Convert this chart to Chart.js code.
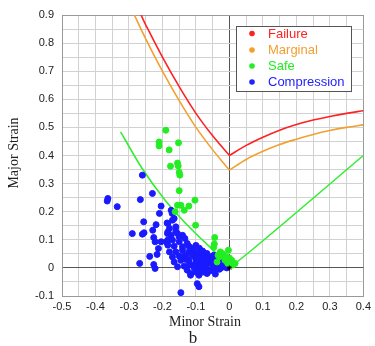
<!DOCTYPE html>
<html><head><meta charset="utf-8">
<script src="https://cdn.jsdelivr.net/npm/chart.js@4/dist/chart.umd.min.js"></script>
<style>html,body{margin:0;padding:0;background:#fff}#wrap{width:375px;height:346px;position:relative}</style>
</head><body><div id="wrap"><canvas id="c" width="375" height="346"></canvas></div>
<script>
// Forming limit curves
const failureLeftX  = [-0.264,-0.25,-0.2,-0.15,-0.1,-0.05,0];
const failureLeftY  = [0.9,0.865,0.75,0.645,0.55,0.47,0.40];
const failureRightX = [0,0.05,0.1,0.15,0.2,0.25,0.3,0.35,0.4];
const failureRightY = [0.40,0.436,0.465,0.49,0.51,0.526,0.539,0.55,0.559];
const marginalLeftX = [-0.284,-0.25,-0.2,-0.15,-0.1,-0.05,0];
const marginalLeftY = [0.9,0.815,0.70,0.595,0.50,0.42,0.348];
const marginalRightX= [0,0.05,0.1,0.15,0.2,0.25,0.3,0.35,0.4];
const marginalRightY= [0.348,0.386,0.415,0.439,0.458,0.475,0.489,0.50,0.509];
const safeLineX     = [-0.325,-0.264,-0.195,-0.136,-0.09,-0.05,-0.02,0,0.4];
const safeLineY     = [0.484,0.36,0.245,0.165,0.11,0.065,0.025,0,0.4];

// Measured points [minor, major]
const safePoints = [
 [-0.19,0.49],[-0.21,0.448],[-0.21,0.434],[-0.152,0.445],[-0.18,0.42],[-0.155,0.373],[-0.153,0.363],
 [-0.176,0.362],[-0.15,0.34],[-0.148,0.33],[-0.15,0.275],[-0.155,0.223],[-0.145,0.223],[-0.103,0.241],
 [-0.121,0.22],[-0.135,0.205],[-0.162,0.2],[-0.101,0.152],[-0.044,0.108],[-0.047,0.073],[-0.034,0.045],
 [-0.023,0.042],[-0.003,0.063],[-0.013,0.027],[0.007,0.027],[-0.027,0.057],[0.017,0.016],[-0.037,0.021],
 [-0.005,0.016],[-0.045,0.085],[-0.02,0.05],[-0.01,0.04],[0.0,0.035],[0.01,0.01],[-0.03,0.04]
];
const compressionPoints = [
 [-0.26,0.33],[-0.363,0.247],[-0.365,0.238],[-0.335,0.218],[-0.266,0.243],[-0.23,0.265],[-0.204,0.22],
 [-0.209,0.194],[-0.256,0.164],[-0.219,0.154],[-0.186,0.16],[-0.29,0.122],[-0.26,0.12],[-0.255,0.125],
 [-0.229,0.134],[-0.226,0.108],[-0.222,0.093],[-0.204,0.093],[-0.189,0.093],[-0.184,0.128],[-0.212,0.069],
 [-0.216,0.048],[-0.238,0.041],[-0.226,0.012],[-0.222,-0.002],[-0.268,0.016],[-0.145,-0.088],
 [-0.174,0.205],[-0.171,0.194],[-0.184,0.158],[-0.179,0.14],[-0.16,0.146],[-0.185,0.122],[-0.174,0.116],
 [-0.155,0.122],[-0.14,0.116],[-0.133,0.105],[-0.184,0.099],[-0.17,0.099],[-0.15,0.093],[-0.126,0.087],
 [-0.184,0.081],[-0.165,0.077],[-0.14,0.075],[-0.121,0.077],[-0.179,0.057],[-0.16,0.057],[-0.14,0.063],
 [-0.121,0.057],[-0.106,0.057],[-0.17,0.039],[-0.15,0.042],[-0.13,0.045],[-0.111,0.045],[-0.096,0.051],
 [-0.081,0.045],[-0.067,0.051],[-0.047,0.045],[-0.165,0.021],[-0.145,0.027],[-0.121,0.027],[-0.101,0.033],
 [-0.086,0.03],[-0.071,0.033],[-0.057,0.03],[-0.037,0.027],[-0.023,0.021],[-0.155,0.004],[-0.135,0.006],
 [-0.111,0.01],[-0.096,0.013],[-0.081,0.016],[-0.067,0.013],[-0.052,0.016],[-0.037,0.01],[-0.013,0.013],
 [-0.126,-0.008],[-0.116,-0.02],[-0.091,-0.008],[-0.076,-0.006],[-0.057,-0.008],[-0.042,-0.002],[-0.027,0.004],
 [-0.116,-0.026],[-0.091,-0.026],[-0.067,-0.02],[-0.042,-0.022],[-0.096,-0.056],[-0.091,-0.067],
 [-0.06,0.04],[-0.05,0.025],[-0.045,0.005],[-0.035,0.035],[-0.03,0.015],[-0.025,0.0],[-0.02,0.03],
 [-0.015,0.005],[-0.01,0.02],[-0.008,0.0],[-0.005,0.01],[-0.07,0.0],[-0.075,0.02],[-0.085,0.005],
 [-0.09,0.035],[-0.1,0.02],[-0.105,0.0],[-0.06,-0.012],[-0.05,0.0],[-0.065,0.03],[-0.04,0.02],
 [-0.03,-0.005],[-0.02,0.012],[-0.11,0.07],[-0.1,0.08],[-0.09,0.07],[-0.08,0.06],[-0.13,0.03],
 [-0.12,0.01],[-0.14,0.04],[-0.1,-0.015],[-0.08,-0.015],[-0.165,0.176],[-0.17,0.17],[-0.16,0.13],[-0.15,0.11]
];
const legendLabels = ['Failure','Marginal','Safe','Compression'];
const legendColors = ['#ff2222','#f2a030','#22ee22','#2222ff'];
const xTitle = 'Minor Strain';
const yTitle = 'Major Strain';
const caption = 'b';

const xy = (xs, ys) => xs.map((x,i)=>({x:x, y:ys[i]}));
const pts = a => a.map(p=>({x:p[0], y:p[1]}));

const lineDs = (label, data, color, order) => ({label, data, showLine:true, borderColor:color,
  borderWidth:1.6, pointRadius:0, tension:0.35, fill:false, order});

const overlay = {
  id:'overlay',
  afterDraw(chart){
    const ctx = chart.ctx;
    ctx.save();
    // legend box
    ctx.fillStyle = '#fff';
    ctx.fillRect(236,26,116,66);
    ctx.strokeStyle = '#555';
    ctx.lineWidth = 1;
    ctx.strokeRect(236.5,26.5,115,65);
    ctx.font = '13px "Liberation Sans", Arial, sans-serif';
    ctx.textBaseline = 'middle';
    ctx.textAlign = 'left';
    const ys = [33.5,50,66,82];
    legendLabels.forEach((t,i)=>{
      ctx.fillStyle = legendColors[i];
      ctx.beginPath(); ctx.arc(252,ys[i],2.8,0,Math.PI*2); ctx.fill();
      ctx.fillText(t,268,ys[i]+0.5);
    });
    // titles
    ctx.fillStyle = '#222';
    ctx.textAlign = 'center';
    ctx.font = '14px "Liberation Serif", "Times New Roman", serif';
    ctx.fillText(xTitle,205,322);
    ctx.font = '17px "Liberation Serif", "Times New Roman", serif';
    ctx.fillText(caption,193,339);
    ctx.translate(14,153);
    ctx.rotate(-Math.PI/2);
    ctx.font = '14px "Liberation Serif", "Times New Roman", serif';
    ctx.fillText(yTitle,0,0);
    ctx.restore();
  }
};

const fmt = v => {
  const r = Math.round(v*100)/100;
  if (Math.round(r*20) % 2 !== 0) return '';
  if (Math.abs(r) < 1e-9) return '0';
  return r.toFixed(1);
};
const gridColor = (c, edge) => {
  const v = Math.round(c.tick.value*100)/100;
  if (Math.abs(v) < 1e-9) return '#555';
  if (Math.abs(v-edge) < 1e-9) return '#999';
  return '#d2d2d2';
};

new Chart(document.getElementById('c'), {
  type:'scatter',
  data:{datasets:[
    {label:'Safe', data:pts(safePoints), backgroundColor:'#22ee22', borderColor:'#22ee22', pointRadius:3, pointHoverRadius:3, order:1},
    {label:'Compression', data:pts(compressionPoints), backgroundColor:'#1a1aff', borderColor:'#1a1aff', pointRadius:3, pointHoverRadius:3, order:2},
    {label:'origin', data:[{x:0,y:0}], pointStyle:'star', borderColor:'#000', pointRadius:2.5, order:0},
    lineDs('Failure left', xy(failureLeftX,failureLeftY), '#ff2222', 3),
    lineDs('Failure right', xy(failureRightX,failureRightY), '#ff2222', 3),
    lineDs('Marginal left', xy(marginalLeftX,marginalLeftY), '#f2a030', 3),
    lineDs('Marginal right', xy(marginalRightX,marginalRightY), '#f2a030', 3),
    Object.assign(lineDs('Safe limit', xy(safeLineX,safeLineY), '#33ee33', 3), {tension:0.2})
  ]},
  options:{
    responsive:false, animation:false, devicePixelRatio:1,
    layout:{padding:{top:15,right:8,left:0,bottom:0}},
    plugins:{legend:{display:false}, tooltip:{enabled:false}},
    scales:{
      x:{type:'linear', min:-0.5, max:0.4,
        ticks:{stepSize:0.05, callback:fmt, autoSkip:false, maxRotation:0, padding:4,
          color:'#222', font:{family:'"Liberation Sans", Arial, sans-serif', size:11}},
        grid:{color:c=>gridColor(c,0.4), drawTicks:false, lineWidth:1},
        border:{color:'#999'},
        afterFit:s=>{s.height=50;}
      },
      y:{type:'linear', min:-0.1, max:0.9,
        ticks:{stepSize:0.05, callback:fmt, autoSkip:false, padding:8,
          color:'#222', font:{family:'"Liberation Sans", Arial, sans-serif', size:11}},
        grid:{color:c=>gridColor(c,0.9), drawTicks:false, lineWidth:1},
        border:{color:'#999'},
        afterFit:s=>{s.width=62;}
      }
    }
  },
  plugins:[overlay]
});
</script></body></html>
